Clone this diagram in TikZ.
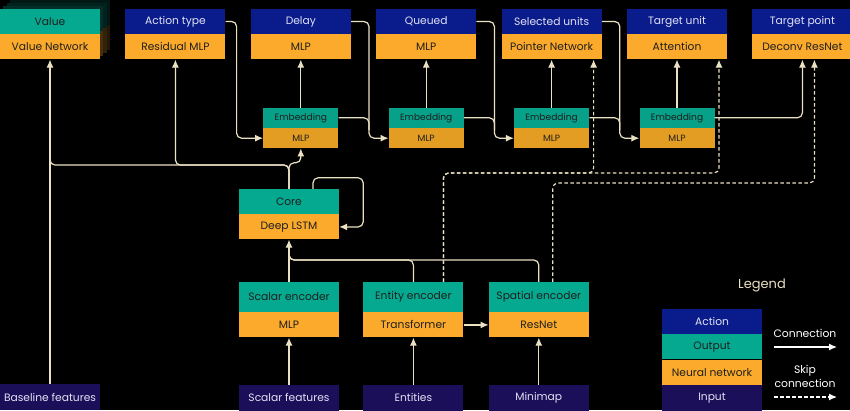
\documentclass[tikz,border=0pt]{standalone}
\usepackage{fontspec}
\setmainfont{Poppins}
\usetikzlibrary{positioning,calc,arrows.meta}
\definecolor{actblue}{HTML}{0A1C8C}
\definecolor{outteal}{HTML}{05A98F}
\definecolor{nnorange}{HTML}{FBAA2B}
\definecolor{embteal}{HTML}{07A088}
\definecolor{embor}{HTML}{E39D22}
\definecolor{inpurple}{HTML}{1C0F5A}
\definecolor{wirecol}{HTML}{EAE0C2}
\definecolor{headtext}{HTML}{E2E2F2}
\tikzset{
  box/.style={minimum width=100pt, minimum height=25pt, inner sep=0pt, font=\fontsize{10.7}{12}\selectfont},
  action/.style={box, fill=actblue, text=headtext},
  output/.style={box, fill=outteal, text=black!88},
  nnet/.style={box, fill=nnorange, text=black!88},
  input/.style={box, fill=inpurple, text=headtext, minimum height=26pt},
  emb/.style={minimum width=75pt, minimum height=20pt, font=\fontsize{9.1}{10}\selectfont},
  wire/.style={draw=wirecol, line width=1.2pt, rounded corners=5pt},
  conn/.style={wire, -{Latex[length=8pt,width=7pt]}},
  skip/.style={conn, dash pattern=on 3.5pt off 2.5pt},
}
\begin{document}
\begin{tikzpicture}[x=1pt,y=-1pt]
\fill[black] (0,0) rectangle (850,410);
\useasboundingbox (0,0) rectangle (850,410);

% value stack
\foreach \k/\s in {3/14,2/20,1/28}{
  \fill[outteal!\s!black] (3.3*\k,9-3*\k) rectangle ++(100,25);
  \fill[nnorange!\s!black] (3.3*\k,34-3*\k) rectangle ++(100,25);
}

% heads
\node[output] (value) at (50,21.5) {Value};
\node[nnet, below=0pt of value] (valuenet) {Value Network};
\node[action, right=25pt of value] (acttype) {Action type};
\node[nnet, below=0pt of acttype] (actnet) {Residual MLP};
\node[action, right=25pt of acttype] (delay) {Delay};
\node[nnet, below=0pt of delay] (delaynet) {MLP};
\node[action, right=25pt of delay] (queued) {Queued};
\node[nnet, below=0pt of queued] (queuednet) {MLP};
\node[action, right=25pt of queued] (selunits) {Selected units};
\node[nnet, below=0pt of selunits] (selnet) {Pointer Network};
\node[action, right=25pt of selunits] (tunit) {Target unit};
\node[nnet, below=0pt of tunit] (tunet) {Attention};
\node[action, right=25pt of tunit] (tpoint) {Target point};
\node[nnet, below=0pt of tpoint] (tpnet) {Deconv ResNet};

% embeddings
\node[output, emb, fill=embteal, below=48pt of delaynet] (demb) {Embedding};
\node[nnet, emb, fill=embor, below=0pt of demb] (dembnet) {MLP};
\node[output, emb, fill=embteal, below=48pt of queuednet] (qemb) {Embedding};
\node[nnet, emb, fill=embor, below=0pt of qemb] (qembnet) {MLP};
\node[output, emb, fill=embteal, below=48pt of selnet] (semb) {Embedding};
\node[nnet, emb, fill=embor, below=0pt of semb] (sembnet) {MLP};
\node[output, emb, fill=embteal, below=48pt of tunet] (temb) {Embedding};
\node[nnet, emb, fill=embor, below=0pt of temb] (tembnet) {MLP};

% core and encoders
\node[output] (core) at (289,201.5) {Core};
\node[nnet, below=0pt of core] (corenet) {Deep LSTM};
\node[output, minimum height=30pt] (scalenc) at (289,297) {Scalar encoder};
\node[nnet, below=0pt of scalenc] (scalnet) {MLP};
\node[output, minimum height=30pt, right=24pt of scalenc] (entenc) {Entity encoder};
\node[nnet, below=0pt of entenc] (entnet) {Transformer};
\node[output, minimum height=30pt, right=25pt of entenc] (spenc) {Spatial encoder};
\node[nnet, below=0pt of spenc] (spnet) {ResNet};

% inputs
\node[input] (basefeat) at (50,397) {Baseline features};
\node[input, below=47pt of scalnet] (scalfeat) {Scalar features};
\node[input, below=47pt of entnet] (entities) {Entities};
\node[input, below=47pt of spnet] (minimap) {Minimap};

% legend
\node[text=wirecol, font=\fontsize{13}{16}\selectfont] (lgtitle) at (762,285) {Legend};
\node[action] (lgaction) at (712,321.5) {Action};
\node[output, below=0pt of lgaction] (lgoutput) {Output};
\node[nnet, below=0pt of lgoutput] (lgnnet) {Neural network};
\node[input, below=0pt of lgnnet] (lginput) {Input};
\node[text=white, font=\fontsize{10.8}{12}\selectfont] (lgconn) at (805,333) {Connection};
\node[text=white, align=center, font=\fontsize{10.8}{14}\selectfont] (lgskip) at (805,376) {Skip\\connection};
\coordinate (lgc1) at (774,347);
\coordinate (lgc2) at (837,347);
\coordinate (lgs1) at (774,397);
\coordinate (lgs2) at (837,397);
\draw[conn, draw=white] (lgc1) -- (lgc2);
\draw[skip, draw=white] (lgs1) -- (lgs2);

% core to heads
\coordinate (bus) at (0,165);
\draw[wire] (core.north) |- (bus -| valuenet.south) -- ++(0,-15);
\draw[conn] (core.north) |- (bus -| actnet.south) -- (actnet.south);
\draw[conn] (core.north) -- ++(0,-26) -| (dembnet.south);
\draw[conn] (basefeat) -- (valuenet);
\draw[conn] ([xshift=24pt]core.north) -- ++(0,-11) -| ([xshift=24pt]corenet.east) -- (corenet.east);

% autoregressive chain
\foreach \a/\b/\d in {acttype/dembnet/11,delay/qembnet/18,queued/sembnet/18,selunits/tembnet/18}
  \draw[conn] (\a.east) -- ++(\d,0) |- (\b.west);
\foreach \e in {demb,qemb,semb}
  \draw[wire] (\e.east) -- ++(30.5,0) -- ++(0,12);
\draw[conn] (temb.east) -| (tpnet.south);
\foreach \e/\t in {demb/delaynet,qemb/queuednet,semb/selnet,temb/tunet}
  \draw[conn] (\e) -- (\t);

% encoders
\coordinate (encbus) at (0,260);
\draw[conn] (scalenc) -- (corenet);
\draw[wire] (entenc.north) |- (encbus -| corenet.south) -- ++(0,-8);
\draw[wire] (spenc.north) |- (encbus -| corenet.south) -- ++(0,-8);
\draw[conn] (entnet) -- (spnet);
\draw[conn] (scalfeat) -- (scalnet);
\draw[conn] (entities) -- (entnet);
\draw[conn] (minimap) -- (spnet);

% skip connections
\coordinate (entout) at ([xshift=30pt]entenc.north);
\coordinate (spout) at ([xshift=14pt]spenc.north);
\coordinate (pnin) at ([xshift=42pt]selnet.south);
\coordinate (atin) at ([xshift=42pt]tunet.south);
\coordinate (tpin) at ([xshift=12pt]tpnet.south);
\coordinate (skipa) at (0,173);
\coordinate (skipb) at (0,183);
\draw[skip] (entout) |- (skipa -| pnin) -- (pnin);
\draw[skip] (entout) |- (skipa -| atin) -- (atin);
\draw[skip] (spout) |- (skipb -| tpin) -- (tpin);
\end{tikzpicture}
\end{document}
